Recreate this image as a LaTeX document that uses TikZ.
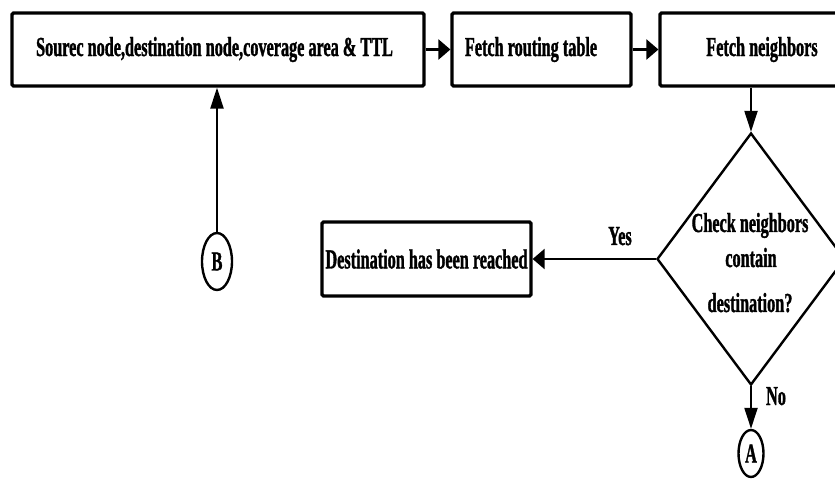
\documentclass[tikz,border=0pt]{standalone}
\usepackage{fontspec}
\setmainfont{Liberation Serif}[FakeStretch=0.59,FakeBold=1.2]
\usetikzlibrary{arrows.meta,shapes.geometric}
\begin{document}
\begin{tikzpicture}[x=1pt,y=-1pt,
  every node/.style={font=\fontsize{27.5}{32}\selectfont\bfseries, inner sep=0pt},
  procbox/.style={draw, line width=3.2pt, rounded corners=1.5pt, minimum height=73pt},
  decision/.style={draw, diamond, line width=2.4pt, minimum width=188pt, minimum height=252pt},
  connector/.style={draw, ellipse, line width=2.4pt},
  flow/.style={line width=2.2pt},
  hflow/.style={flow, -{Triangle[length=12pt,width=20pt]}},
  vflow/.style={flow, -{Triangle[length=21pt,width=13pt]}},
  tag/.style={anchor=base}
]
\useasboundingbox (0,0) rectangle (835,486);
\clip (0,0) rectangle (835,486);

% process boxes along the top
\node[procbox, minimum width=412pt] (src) at (218,49.5)
  {Sourec node,destination node,coverage area \& TTL\hspace*{7pt}};
\node[procbox, minimum width=179pt] (route) at (541.5,49.5)
  {Fetch routing table\hspace*{21pt}};
\node[procbox, minimum width=204pt] (nbrs) at (762,49.5) {Fetch neighbors};

% decision and its outcomes
\node[decision] (chk) at (751,259) {};
\node[tag] (qa) at (750,232) {Check neighbors};
\node[tag] (qb) at (751,267) {contain};
\node[tag] (qc) at (750,312) {destination?};

\node[procbox, minimum width=209pt, minimum height=74pt] (done) at (426.5,259)
  {Destination has been reached};

% off-page connectors
\node[connector, minimum width=25pt, minimum height=47pt] (endA) at (751,453.5) {A};
\node[connector, minimum width=30pt, minimum height=57pt] (startB) at (217,261.5) {B};

% branch labels
\node[tag] (yes) at (620,245) {Yes};
\node[tag] (no) at (776,405) {No};

% flow lines
\draw[hflow] (src) -- (route);
\draw[hflow] (route) -- (nbrs);
\draw[vflow] (nbrs.south -| chk.north) -- (chk.north);
\draw[hflow] (chk.west) -- (done.east);
\draw[vflow] (chk.south) -- (endA.north);
\draw[vflow] (startB.north) -- (src.south -| startB.north);
\end{tikzpicture}
\end{document}
